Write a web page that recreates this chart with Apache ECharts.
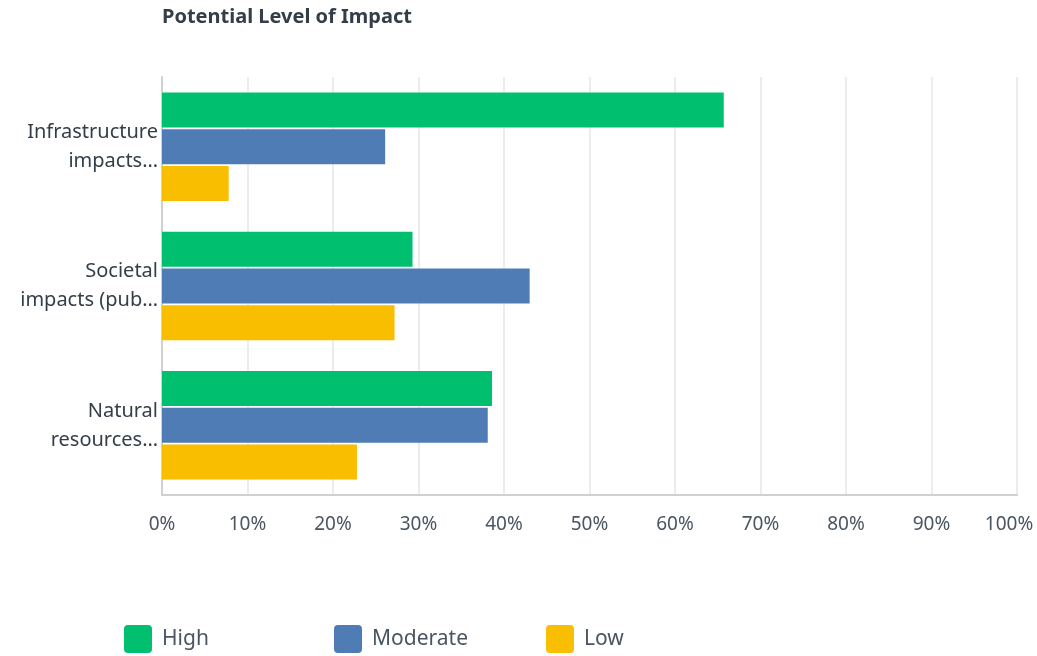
<!DOCTYPE html>
<html><head><meta charset="utf-8">
<script src="https://cdn.jsdelivr.net/npm/echarts@6/dist/echarts.min.js"></script>
<style>html,body{margin:0;padding:0;background:#fff}#c{width:1037px;height:656px}</style>
</head><body><div id="c"></div>
<script>
const categories = ["Infrastructure\nimpacts…", "Societal\nimpacts (pub…", "Natural\nresources…"];
const seriesNames = ["High", "Moderate", "Low"];
const high = [65.7, 29.3, 38.6];
const moderate = [26.1, 43.0, 38.1];
const low = [7.8, 27.2, 22.8];
const tickLabels = ["0%","10%","20%","30%","40%","50%","60%","70%","80%","90%","100%"];
const colors = ["#00bf6f", "#507cb6", "#f9be00"];
const values = [high, moderate, low];

const chart = echarts.init(document.getElementById('c'));
const font = "'Noto Sans', sans-serif";
chart.setOption({
  animation: false,
  title: { text: "Potential Level of Impact", left: 162, top: 7, padding: 0,
    textStyle: { fontFamily: font, fontSize: 20, fontWeight: 'bold', color: '#333e48' } },
  grid: { left: 162, right: 20, top: 77, bottom: 161, containLabel: false, outerBoundsMode: 'none' },
  legend: seriesNames.map((n, i) => ({
    data: [n], left: [124, 334, 546][i], top: 625, itemWidth: 28, itemHeight: 28, padding: 0,
    icon: 'path://M4,0 H24 A4,4 0 0 1 28,4 V24 A4,4 0 0 1 24,28 H4 A4,4 0 0 1 0,24 V4 A4,4 0 0 1 4,0 Z',
    itemGap: 8, textStyle: { fontFamily: font, fontSize: 21, color: '#4a5561', padding: [6,0,0,5] }
  })),
  xAxis: {
    type: 'value', min: 0, max: 100, interval: 10,
    axisLabel: {
      formatter: v => v === 100 ? '{last|' + tickLabels[10] + '}' : tickLabels[v / 10],
      fontFamily: font, fontSize: 19, color: '#4a5561', margin: 20,
      rich: { last: { fontFamily: font, fontSize: 19, color: '#4a5561', padding: [0, 16, 0, 0] } }
    },
    splitLine: { show: true, lineStyle: { color: '#ececec', width: 2 } },
    axisLine: { show: true, lineStyle: { color: '#d0d0d0', width: 2 } },
    axisTick: { show: false }
  },
  yAxis: {
    type: 'category', data: categories, inverse: true,
    axisLabel: { fontFamily: font, fontSize: 20, color: '#333e48', align: 'right', lineHeight: 29, margin: 4 },
    axisLine: { show: true, lineStyle: { color: '#d0d0d0', width: 2 } },
    axisTick: { show: false }
  },
  series: seriesNames.map((n, i) => ({
    name: n, type: 'bar', data: values[i], barWidth: 35, barGap: '5%',
    itemStyle: { color: colors[i] }
  }))
});
</script></body></html>
